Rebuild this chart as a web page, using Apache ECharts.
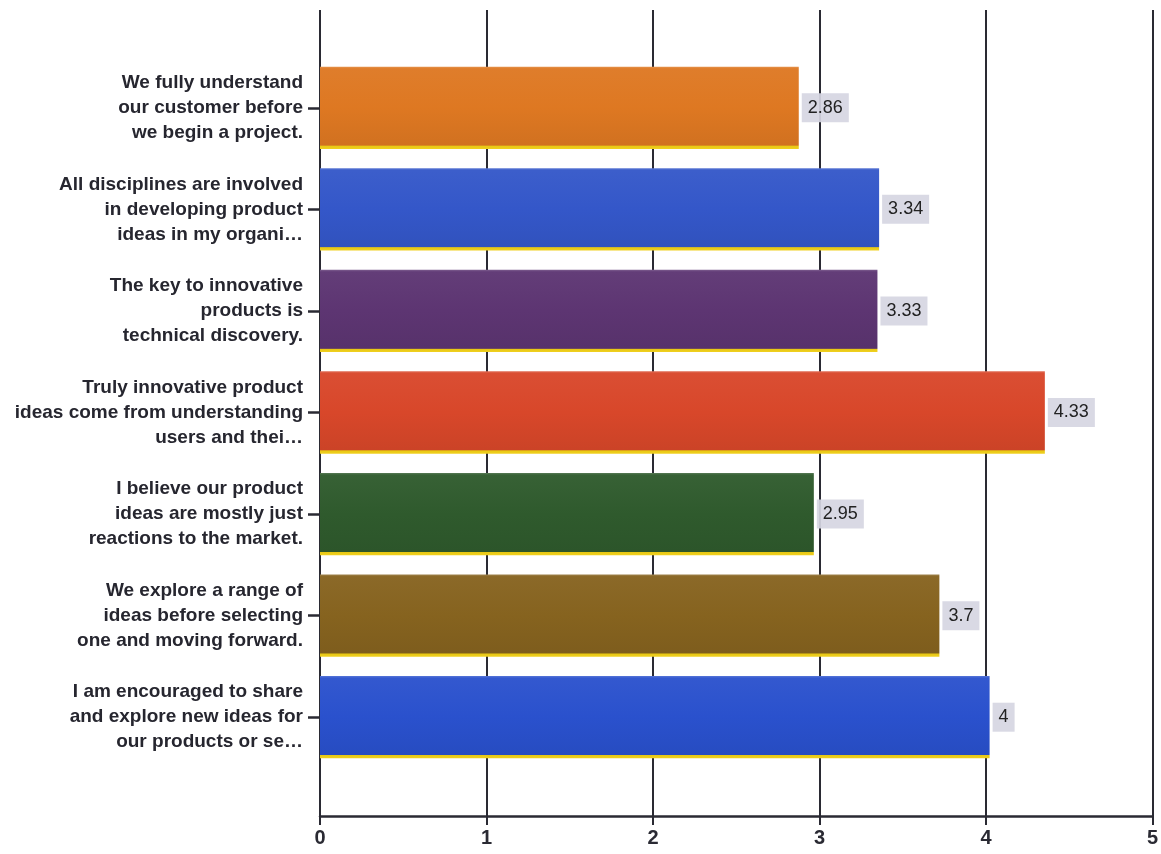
<!DOCTYPE html>
<html>
<head>
<meta charset="utf-8">
<script src="https://cdn.jsdelivr.net/npm/echarts@6/dist/echarts.min.js"></script>
<style>
html,body{margin:0;padding:0;background:#fff;}
#chart{width:1161px;height:854px;}
</style>
</head>
<body>
<div id="chart"></div>
<script>
// ---- data ----
const categories = [
  "We fully understand\nour customer before\nwe begin a project.",
  "All disciplines are involved\nin developing product\nideas in my organi…",
  "The key to innovative\nproducts is\ntechnical discovery.",
  "Truly innovative product\nideas come from understanding\nusers and thei…",
  "I believe our product\nideas are mostly just\nreactions to the market.",
  "We explore a range of\nideas before selecting\none and moving forward.",
  "I am encouraged to share\nand explore new ideas for\nour products or se…"
];
const values = [2.86, 3.34, 3.33, 4.33, 2.95, 3.7, 4];
const xTicks = [0, 1, 2, 3, 4, 5];

// ---- styles ----
const palette = ["#de7822", "#3457c9", "#5d3572", "#d8472a", "#2f5a2d", "#86631f", "#2a51cd"];

function shade(hex, f) {
  const n = parseInt(hex.slice(1), 16);
  let r = (n >> 16) & 255, g = (n >> 8) & 255, b = n & 255;
  const m = v => Math.max(0, Math.min(255, Math.round(f >= 0 ? v + (255 - v) * f : v * (1 + f))));
  return "rgb(" + m(r) + "," + m(g) + "," + m(b) + ")";
}
function barFill(c) {
  return {
    type: "linear", x: 0, y: 0, x2: 0, y2: 1,
    colorStops: [
      { offset: 0, color: shade(c, 0.2) },
      { offset: 0.025, color: shade(c, 0.04) },
      { offset: 0.5, color: c },
      { offset: 0.955, color: shade(c, -0.06) },
      { offset: 0.965, color: "#e8c814" },
      { offset: 1, color: "#f0d020" }
    ]
  };
}

const font = "Arial, 'Liberation Sans', Helvetica, sans-serif";
const chart = echarts.init(document.getElementById("chart"), null, { renderer: "canvas" });

chart.setOption({
  backgroundColor: "#ffffff",
  animation: false,
  grid: [
    { left: 320, right: 4, top: 10, bottom: 38 },
    { left: 320, right: 4, top: 57, bottom: 86 }
  ],
  xAxis: [
    {
      gridIndex: 0, type: "value", min: xTicks[0], max: xTicks[xTicks.length - 1], interval: 1,
      axisLine: { show: true, lineStyle: { color: "#2a2a33", width: 2.5 } },
      axisTick: { show: true, length: 9, lineStyle: { color: "#2a2a33", width: 2 } },
      splitLine: { show: true, lineStyle: { color: "#2a2a33", width: 2 } },
      axisLabel: { show: true, margin: 12, fontSize: 20, fontWeight: "bold", color: "#2a2a33", fontFamily: font }
    },
    {
      gridIndex: 1, type: "value", min: xTicks[0], max: xTicks[xTicks.length - 1], interval: 1,
      show: false
    }
  ],
  yAxis: [
    { gridIndex: 0, type: "value", show: false, min: 0, max: 1 },
    {
      gridIndex: 1, type: "category", inverse: true, data: categories,
      axisLine: { show: false },
      axisTick: { show: true, alignWithLabel: true, length: 12, lineStyle: { color: "#2a2a33", width: 2.5 } },
      splitLine: { show: false },
      axisLabel: {
        margin: 17, fontSize: 19, fontWeight: "bold", lineHeight: 25,
        color: "#26262f", fontFamily: font, align: "right"
      }
    }
  ],
  series: [
    {
      type: "bar", xAxisIndex: 1, yAxisIndex: 1,
      barCategoryGap: "19%",
      data: values.map((v, i) => ({ value: v, itemStyle: { color: barFill(palette[i]) } })),
      label: {
        show: true, position: "right", distance: 3,
        fontSize: 18, color: "#222", fontFamily: font,
        backgroundColor: "rgba(214,214,226,0.92)", padding: [6, 6, 5, 6]
      }
    }
  ]
});
</script>
</body>
</html>
